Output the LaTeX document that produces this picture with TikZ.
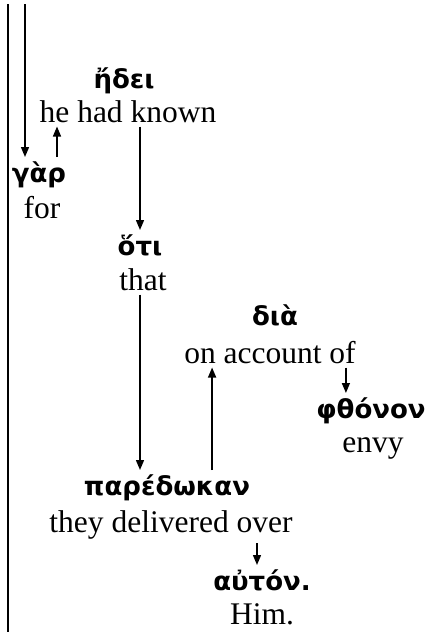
\documentclass[tikz,border=0pt]{standalone}
\usepackage{fontspec}
\setmainfont{Liberation Serif}
\newfontfamily\grfont{DejaVu Sans}
\usetikzlibrary{arrows.meta}

\tikzset{
  gr/.style={anchor=base, inner sep=4pt, font=\grfont\bfseries\fontsize{26}{30}\selectfont},
  en/.style={anchor=base, inner sep=4pt, font=\fontsize{31.5}{36}\selectfont},
  arr/.style={line width=1.4pt, -{Triangle[length=10pt,width=8pt]}}
}

\begin{document}
\begin{tikzpicture}[x=1pt,y=-1pt]
    \useasboundingbox (0,0) rectangle (426,632);

    % the margin line
    \draw[line width=1.6pt] (8,4) -- (8,632);
    \coordinate (start) at (25,4);

    % words
    \node[gr] (edei) at (124,88) {ἤδει};
    \node[en] (known) at (128,122) {he had known};

    \node[gr] (gar) at (39,182) {γὰρ};
    \node[en] (for) at (42,218) {for};

    \node[gr] (hoti) at (140,255) {ὅτι};
    \node[en] (that) at (143,290) {that};

    \node[gr] (dia) at (275,325) {διὰ};
    \node[en] (account) at (270,363) {on account of};

    \node[gr] (phthonon) at (371,418) {φθόνον};
    \node[en] (envy) at (373,452) {envy};

    \node[gr] (paredokan) at (167,495) {παρέδωκαν};
    \node[en] (delivered) at (171,532) {they delivered over};

    \node[gr] (auton) at (262,590) {αὐτόν.};
    \node[en, inner sep=2pt] (him) at (262,624) {Him.};

    % connectors
    \draw[arr] (start) -- (start |- gar.north);
    \draw[arr] ([xshift=18pt]gar.north) -- ([xshift=18pt]gar.north |- known.south);
    \draw[arr] (hoti.north |- known.south) -- (hoti.north);
    \draw[arr] (hoti.south |- that.south) -- (hoti.south |- paredokan.north);
    \draw[arr] ([xshift=32pt]account.south west |- paredokan.north) -- ([xshift=32pt]account.south west);
    \draw[arr] ([xshift=-14pt]account.south east) -- ([xshift=-14pt]account.south east |- phthonon.north);
    \draw[arr] ([xshift=86pt]delivered.south) -- ([xshift=86pt]delivered.south |- auton.north);
\end{tikzpicture}
\end{document}
